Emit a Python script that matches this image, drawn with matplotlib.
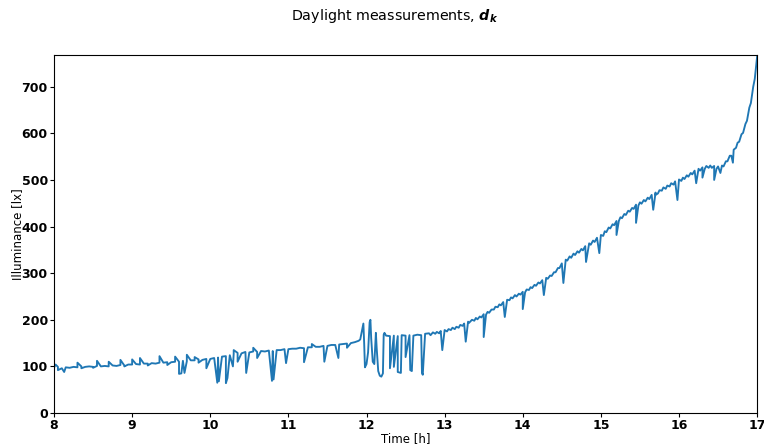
import matplotlib
matplotlib.use('Agg')
import matplotlib.pyplot as plt
import numpy as np

# Slowly varying daylight level, one reading every 3 minutes [lx]
base_t = np.round(np.arange(8.0, 11.90001, 0.05), 2)
base_v = [97, 99, 96, 98, 97, 99, 98, 100, 99, 100,
          99, 101, 100, 101, 100, 102, 101, 103, 102, 104,
          104, 105, 104, 106, 106, 107, 106, 108, 108, 109,
          109, 110, 110, 112, 111, 113, 113, 115, 114, 116,
          116, 118, 119, 121, 122, 124, 127, 129, 128, 131,
          130, 132, 131, 133, 132, 134, 133, 135, 135, 137,
          137, 138, 138, 140, 139, 141, 141, 142, 142, 144,
          144, 146, 146, 147, 148, 149, 150, 152, 155]

# Cloudy period around noon
noon_t = [11.92, 11.94, 11.96, 11.97, 11.98, 12.00, 12.02, 12.04, 12.05, 12.06,
          12.08, 12.10, 12.12, 12.13, 12.15, 12.17, 12.19, 12.21, 12.22, 12.25]
noon_v = [158, 175, 192, 150, 98, 105, 130, 195, 200, 160,
          110, 105, 172, 140, 90, 80, 78, 85, 168, 166]

# Afternoon readings
late_t = np.round(np.arange(12.30, 17.00001, 0.05), 2)
late_v = [165, 166, 165, 167, 166, 167, 166, 168, 167, 170,
          171, 173, 174, 176, 178, 180, 183, 185, 189, 192,
          196, 200, 204, 207, 212, 217, 222, 228, 233, 238,
          243, 248, 253, 256, 260, 265, 270, 275, 280, 285,
          290, 295, 302, 311, 321, 329, 336, 342, 347, 352,
          358, 364, 370, 376, 382, 390, 398, 405, 412, 420,
          427, 434, 440, 447, 452, 457, 462, 468, 473, 478,
          484, 488, 493, 497, 501, 505, 510, 515, 520, 524,
          527, 530, 531, 530, 529, 531, 540, 552, 565, 580,
          598, 620, 655, 700, 765]

# Slightly lower readings in between, which give the trace its width
low_t = [12.82, 12.88, 12.93, 13.03, 13.08, 13.13, 13.18, 13.23, 13.31, 13.38,
         13.42, 13.47, 13.53, 13.57, 13.63, 13.68, 13.72, 13.83, 13.87, 13.92,
         13.97, 14.03, 14.08, 14.12, 14.17, 14.22, 14.32, 14.37, 14.42, 14.47,
         14.57, 14.62, 14.67, 14.72, 14.77, 14.87, 14.92, 15.03, 15.07, 15.12,
         15.17, 15.23, 15.27, 15.32, 15.37, 15.42, 15.48, 15.52, 15.57, 15.62,
         15.70, 15.73, 15.78, 15.83, 15.88, 15.93, 16.03, 16.07, 16.12, 16.17,
         16.27, 16.33, 16.38, 16.42, 16.48, 16.57, 16.62, 16.67, 16.73, 16.77,
         16.82, 16.87, 16.92, 16.97]
low_v = [167, 170, 171, 175, 178, 180, 183, 187, 193, 198,
         201, 205, 211, 215, 222, 227, 231, 242, 246, 250,
         254, 259, 264, 268, 273, 278, 288, 294, 302, 311,
         327, 333, 339, 344, 349, 361, 367, 380, 388, 396,
         403, 412, 418, 425, 432, 438, 445, 449, 454, 459,
         468, 471, 477, 481, 486, 490, 498, 502, 507, 512,
         520, 524, 526, 526, 524, 529, 540, 552, 569, 582,
         601, 627, 665, 717]

# Short shadows on the sensor (drops) and reflections (peaks)
dip_t = [8.05, 8.13, 8.35, 8.5, 8.9, 9.2, 9.45, 9.6, 9.63, 9.67,
         9.85, 9.95, 10.09, 10.11, 10.2, 10.22, 10.29, 10.35, 10.46, 10.6,
         10.79, 10.81, 10.97, 11.2, 11.46, 11.64, 11.75, 12.3, 12.35, 12.4,
         12.44, 12.5, 12.56, 12.58, 12.71, 12.72, 12.97, 13.27, 13.5, 13.77,
         14.0, 14.27, 14.52, 14.81, 14.98, 15.2, 15.45, 15.67, 15.98, 16.22,
         16.3, 16.45, 16.53, 16.69]
dip_v = [92, 88, 96, 97, 100, 102, 103, 84, 85, 86,
         108, 96, 65, 68, 64, 75, 100, 110, 86, 118,
         69, 72, 107, 109, 110, 118, 140, 96, 99, 88,
         86, 120, 92, 90, 86, 82, 135, 153, 163, 206,
         223, 253, 279, 324, 343, 382, 408, 436, 457, 493,
         505, 500, 515, 537]
peak_t = [8.02, 8.3, 8.55, 8.7, 8.85, 9.0, 9.1, 9.35, 9.55, 9.7,
          9.8, 10.3, 10.55, 11.3, 12.23]
peak_v = [104, 108, 112, 110, 114, 115, 118, 122, 121, 125,
          120, 135, 140, 148, 172]

t = np.concatenate([base_t, noon_t, late_t, low_t, dip_t, peak_t])
v = np.concatenate([base_v, noon_v, late_v, low_v, dip_v, peak_v])
order = np.argsort(t, kind='stable')
t, v = t[order], v[order]

fig = plt.figure(figsize=(7.64, 4.44), dpi=100)
ax = fig.add_axes([0.0707, 0.0698, 0.9203, 0.8062])
ax.plot(t, v, color='#1f77b4', linewidth=1.35)

ax.set_xlim(8, 17)
ax.set_ylim(0, 768)
ax.set_xticks(range(8, 18))
ax.set_yticks(range(0, 800, 100))
ax.tick_params(length=3, pad=1.5)
for lbl in ax.get_xticklabels() + ax.get_yticklabels():
    lbl.set_fontweight('bold')
    lbl.set_fontsize(9)
ax.set_xlabel('Time [h]', fontsize=8.5, labelpad=0)
ax.set_ylabel('Illuminance [lx]', fontsize=8.5, labelpad=-1.5)
fig.suptitle(r'Daylight meassurements, $\mathbfit{d_k}$', fontsize=10.3,
             x=0.517, y=0.985)

fig.savefig('out.png', dpi=100)
